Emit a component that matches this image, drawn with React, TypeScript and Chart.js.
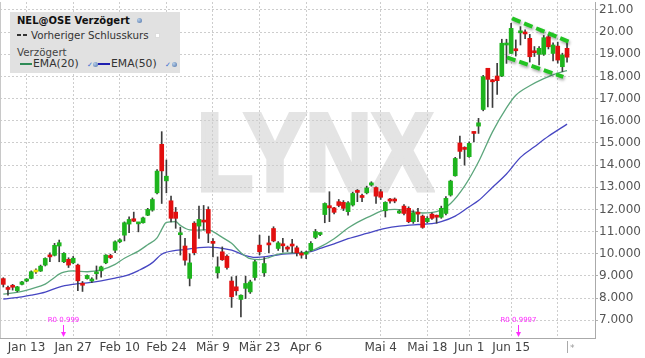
import React, { useEffect, useRef } from 'react';
import { Chart, registerables } from 'chart.js';

Chart.register(...registerables);

// ---- Candle data (trading-day index 0 = Jan 6) ----
const opens = [
  8.88, 8.46, 8.54, 8.33, 8.62, 8.77, 8.89, 9.18, 9.22, 9.49,
  9.93, 9.93, 10.35, 9.64, 9.75, 9.59, 9.49, 8.66, 8.88, 8.77,
  9.10, 9.23, 9.59, 9.90, 10.16, 10.54, 10.84, 11.34, 11.58, 11.35,
  11.40, 11.74, 11.97, 12.75, 14.94, 13.29, 12.39, 11.88, 10.86, 10.35,
  8.89, 11.38, 11.25, 11.49, 12.00, 10.56, 9.14, 10.09, 9.89, 8.77,
  8.51, 7.94, 8.44, 8.28, 8.93, 10.39, 9.14, 10.48, 11.14, 10.24,
  10.44, 10.27, 10.38, 10.27, 10.01, 9.98, 10.16, 10.74, 10.87, 11.77,
  12.17, 12.07, 12.35, 12.32, 11.90, 12.20, 12.84, 12.60, 12.75, 13.10,
  12.99, 12.80, 11.94, 12.44, 12.44, 11.84, 12.15, 12.05, 11.45, 11.85,
  11.70, 11.45, 11.79, 11.70, 11.65, 11.82, 12.65, 13.52, 15.00, 14.78,
  14.38, 15.48, 15.76, 16.51, 18.37, 17.84, 18.02, 18.02, 19.42, 19.04,
  19.19, 19.97, 19.99, 19.72, 19.12, 19.00, 19.00, 19.79, 19.04, 19.37,
  18.44, 19.27,
];
const highs = [
  8.92, 8.54, 8.62, 8.53, 8.76, 8.88, 9.23, 9.32, 9.49, 9.82,
  10.04, 10.47, 10.62, 10.05, 9.82, 9.88, 9.53, 8.75, 9.05, 8.92,
  9.45, 9.45, 9.96, 9.98, 10.58, 10.68, 11.44, 11.67, 11.88, 11.42,
  11.66, 12.05, 12.52, 13.80, 15.51, 14.23, 12.60, 12.09, 11.20, 10.70,
  10.00, 11.45, 12.15, 12.18, 12.12, 10.69, 9.86, 10.31, 9.95, 8.96,
  8.99, 8.15, 8.99, 8.81, 9.71, 10.84, 9.83, 10.80, 11.22, 10.55,
  10.70, 10.35, 10.65, 10.35, 10.12, 10.12, 10.55, 11.10, 10.95, 12.30,
  12.80, 12.10, 12.45, 12.40, 12.35, 12.78, 12.90, 12.69, 13.05, 13.25,
  13.02, 12.90, 12.35, 12.50, 12.52, 11.98, 12.22, 12.12, 11.95, 12.05,
  11.75, 11.68, 11.85, 11.75, 12.15, 12.58, 13.32, 14.35, 15.31, 14.83,
  15.05, 15.50, 16.11, 18.05, 18.37, 17.87, 18.59, 19.68, 19.68, 20.40,
  19.65, 20.25, 20.10, 19.90, 19.35, 19.35, 19.85, 19.87, 19.52, 19.55,
  19.05, 19.57,
];
const lows = [
  8.50, 8.13, 8.36, 8.28, 8.60, 8.74, 8.87, 9.11, 9.20, 9.45,
  9.64, 9.90, 9.64, 9.60, 9.38, 9.55, 8.33, 8.30, 8.85, 8.70,
  8.85, 8.95, 9.55, 9.78, 10.05, 10.50, 10.58, 10.95, 11.45, 10.99,
  11.38, 11.72, 11.92, 12.70, 12.27, 12.75, 11.44, 11.15, 9.94, 9.49,
  8.55, 9.95, 10.69, 11.07, 10.50, 9.86, 8.90, 9.70, 9.30, 7.58,
  8.13, 7.15, 7.98, 8.21, 8.81, 9.95, 8.98, 10.05, 10.54, 10.15,
  10.07, 10.10, 10.05, 9.90, 9.80, 9.78, 10.12, 10.68, 10.82, 11.40,
  11.45, 11.80, 12.12, 11.95, 11.74, 12.15, 12.35, 12.35, 12.70, 13.05,
  12.27, 12.45, 11.66, 12.28, 12.30, 11.82, 11.75, 11.40, 11.37, 11.45,
  11.15, 11.40, 11.55, 11.38, 11.60, 11.75, 12.60, 13.50, 14.30, 14.00,
  14.35, 15.05, 15.43, 16.45, 16.63, 16.60, 17.19, 17.99, 18.59, 19.04,
  18.92, 19.42, 19.70, 18.65, 18.90, 18.52, 18.95, 19.24, 18.70, 18.60,
  18.22, 18.65,
];
const closes = [
  8.62, 8.39, 8.49, 8.51, 8.73, 8.84, 9.19, 9.18, 9.44, 9.79,
  9.86, 10.38, 10.50, 10.02, 9.49, 9.80, 8.78, 8.58, 9.02, 8.83,
  9.15, 9.41, 9.94, 9.83, 10.54, 10.62, 11.40, 11.55, 11.47, 11.38,
  11.62, 12.00, 12.45, 13.73, 13.74, 13.50, 11.60, 11.60, 10.92, 9.71,
  9.59, 10.05, 11.55, 11.43, 10.93, 10.47, 9.41, 9.73, 9.38, 8.06,
  8.33, 8.13, 8.66, 8.73, 9.64, 10.09, 9.56, 10.40, 10.58, 10.49,
  10.36, 10.21, 10.35, 10.04, 9.94, 10.04, 10.47, 11.00, 10.91, 12.27,
  12.07, 11.87, 12.18, 12.05, 12.30, 12.72, 12.77, 12.54, 12.97, 13.20,
  12.60, 12.55, 12.32, 12.38, 12.38, 11.88, 11.82, 11.45, 11.85, 11.79,
  11.19, 11.60, 11.60, 11.65, 12.05, 12.50, 13.28, 14.30, 14.62, 14.71,
  14.98, 15.43, 15.91, 17.99, 17.87, 17.76, 17.81, 19.50, 19.50, 20.17,
  19.16, 20.02, 19.92, 18.89, 19.07, 19.27, 19.75, 19.34, 19.42, 18.74,
  18.97, 18.87,
];

// ---- EMA lines (at sample days) ----
const ema20Idx = [0, 4, 6, 9, 11, 12, 13, 15, 18, 21, 24, 26, 29, 31, 33, 34, 35, 37, 38, 40, 42, 44, 45, 47, 49, 51, 53, 55, 57, 59, 62, 64, 66, 68, 71, 74, 76, 79, 82, 84, 87, 90, 93, 96, 99, 102, 105, 108, 110, 113, 116, 119, 121];
const ema20Val = [8.18, 8.30, 8.42, 8.63, 8.93, 9.08, 9.17, 9.23, 9.19, 9.27, 9.52, 9.80, 10.12, 10.41, 10.72, 11.10, 11.42, 11.45, 11.28, 11.08, 11.07, 11.08, 11.00, 10.74, 10.47, 10.05, 9.78, 9.74, 9.83, 9.98, 10.04, 10.04, 10.13, 10.31, 10.68, 11.16, 11.42, 11.72, 11.98, 12.00, 11.93, 11.84, 11.90, 12.27, 13.05, 14.15, 15.50, 16.58, 17.15, 17.58, 17.90, 18.15, 18.26];
const ema50Idx = [0, 4, 6, 9, 12, 15, 18, 21, 24, 27, 29, 32, 34, 37, 39, 42, 44, 46, 49, 52, 54, 57, 60, 64, 66, 68, 71, 74, 78, 82, 85, 89, 92, 94, 97, 100, 102, 105, 108, 111, 114, 117, 121];
const ema50Val = [7.96, 8.06, 8.13, 8.27, 8.50, 8.62, 8.69, 8.78, 8.90, 9.06, 9.24, 9.60, 9.98, 10.15, 10.19, 10.28, 10.30, 10.28, 10.16, 9.92, 9.84, 9.89, 9.98, 10.03, 10.10, 10.24, 10.45, 10.68, 10.92, 11.15, 11.25, 11.32, 11.36, 11.45, 11.70, 12.12, 12.40, 13.00, 13.60, 14.35, 14.83, 15.30, 15.85];

// ---- Trend channel (drawn annotation) ----
const trendUpperIdx = [109.2, 121.5];
const trendUpperVal = [20.62, 19.56];
const trendLowerIdx = [108.1, 120.2];
const trendLowerVal = [18.86, 17.98];

// ---- Axes ----
const xTickIdx = [5, 15, 25, 35, 45, 55, 65, 81, 91, 100, 109, 119];
const xTickLabels = ['Jan 13', 'Jan 27', 'Feb 10', 'Feb 24', 'Mär 9', 'Mär 23', 'Apr 6', 'Mai 4', 'Mai 18', 'Jun 1', 'Jun 15', ''];
const yTickValues = [7, 8, 9, 10, 11, 12, 13, 14, 15, 16, 17, 18, 19, 20, 21];

// ---- Event markers ----
const markerIdx = [12.8, 110.4];
const markerLabels = ['R0 0.999', 'R0 0.9997'];

const UP = '#1db41d';
const DOWN = '#e20f0f';
const FLAT = '#e8e000';
const FONT = '"DejaVu Sans", Verdana, sans-serif';

const pts = (xs: number[], ys: number[]) => xs.map((x, i) => ({ x, y: ys[i] }));

const overlayPlugin = {
  id: 'overlayMarks',
  beforeDatasetDraw(chart: any, args: any) {
    const ds = chart.data.datasets[args.index];
    if (ds && ds._shadow) {
      const ctx = chart.ctx;
      ctx.save();
      ctx.shadowColor = 'rgba(0,0,0,0.35)';
      ctx.shadowBlur = 3;
      ctx.shadowOffsetX = 1;
      ctx.shadowOffsetY = 2;
    }
  },
  afterDatasetDraw(chart: any, args: any) {
    const ds = chart.data.datasets[args.index];
    if (ds && ds._shadow) chart.ctx.restore();
  },
  afterDraw(chart: any) {
    const { ctx, chartArea, scales } = chart;
    ctx.save();
    ctx.strokeStyle = '#c8c8c8';
    ctx.lineWidth = 1;
    ctx.beginPath();
    ctx.moveTo(chartArea.left + 0.5, chartArea.top);
    ctx.lineTo(chartArea.left + 0.5, chartArea.bottom);
    ctx.stroke();
    ctx.fillStyle = '#ff2cff';
    ctx.strokeStyle = '#ff2cff';
    ctx.font = '7px ' + FONT;
    ctx.textAlign = 'center';
    ctx.textBaseline = 'middle';
    markerIdx.forEach((v, i) => {
      const x = Math.round(scales.x.getPixelForValue(v)) + 0.5;
      const yb = chartArea.bottom;
      ctx.fillText(markerLabels[i], x, yb - 18);
      ctx.beginPath();
      ctx.moveTo(x, yb - 13);
      ctx.lineTo(x, yb - 5);
      ctx.stroke();
      ctx.beginPath();
      ctx.moveTo(x - 2.5, yb - 6);
      ctx.lineTo(x + 2.5, yb - 6);
      ctx.lineTo(x, yb - 1);
      ctx.closePath();
      ctx.fill();
    });
    ctx.restore();
  },
};

function Globe({ left, top }: { left: number; top: number }) {
  return (
    <span
      style={{
        position: 'absolute', left, top, width: 5, height: 5, borderRadius: '50%',
        background: 'radial-gradient(circle at 35% 35%, #b8cfe8, #4a70a8)',
      }}
    />
  );
}

export default function App() {
  const canvasRef = useRef<HTMLCanvasElement | null>(null);

  useEffect(() => {
    document.body.style.margin = '0';
    const canvas = canvasRef.current;
    if (!canvas) return;

    const bodyData = opens.map((o, i) => ({ x: i, y: [Math.min(o, closes[i]), Math.max(o, closes[i])] }));
    const bodyColors = opens.map((o, i) => (closes[i] > o ? UP : closes[i] < o ? DOWN : FLAT));
    const wickData = opens.map((_, i) => ({ x: i, y: [lows[i], highs[i]] }));

    const chart = new Chart(canvas, {
      type: 'bar',
      data: {
        datasets: [
          {
            type: 'line', label: 'EMA(50)', data: pts(ema50Idx, ema50Val),
            borderColor: '#4646c2', borderWidth: 1.3, pointRadius: 0, fill: false,
            cubicInterpolationMode: 'monotone', order: 5,
          } as any,
          {
            type: 'line', label: 'EMA(20)', data: pts(ema20Idx, ema20Val),
            borderColor: '#5ca67c', borderWidth: 1.3, pointRadius: 0, fill: false,
            cubicInterpolationMode: 'monotone', order: 4,
          } as any,
          {
            type: 'bar', label: 'wick', data: wickData, backgroundColor: '#3c3c3c',
            barThickness: 1, grouped: false, order: 3,
          } as any,
          {
            type: 'bar', label: 'body', data: bodyData, backgroundColor: bodyColors,
            barThickness: 4, grouped: false, minBarLength: 2, order: 2,
          } as any,
          {
            type: 'line', label: 'trendUpper', data: pts(trendUpperIdx, trendUpperVal),
            borderColor: '#22c422', borderWidth: 4, borderDash: [9, 4], pointRadius: 0,
            fill: false, order: 1, _shadow: true, borderCapStyle: 'butt',
          } as any,
          {
            type: 'line', label: 'trendLower', data: pts(trendLowerIdx, trendLowerVal),
            borderColor: '#22c422', borderWidth: 4, borderDash: [9, 4], pointRadius: 0,
            fill: false, order: 1, _shadow: true, borderCapStyle: 'butt',
          } as any,
        ],
      },
      options: {
        responsive: false,
        animation: false,
        devicePixelRatio: 1,
        layout: { padding: { left: 0, top: 2, right: 0, bottom: 0 }, autoPadding: false } as any,
        plugins: { legend: { display: false }, tooltip: { enabled: false } },
        events: [],
        scales: {
          x: {
            type: 'linear',
            min: -0.71,
            max: 127,
            offset: false,
            afterBuildTicks: (s: any) => { s.ticks = xTickIdx.map((v) => ({ value: v })); },
            afterFit: (s: any) => {
              s.height = 20;
              s.paddingLeft = 0; s.paddingRight = 0; s.paddingTop = 0; s.paddingBottom = 0;
            },
            ticks: {
              autoSkip: false, maxRotation: 0, padding: 3,
              font: { family: FONT, size: 12 }, color: '#444',
              callback: (_v: any, i: number) => xTickLabels[i],
            },
            grid: { color: '#cdcdcd', drawTicks: false, offset: false, lineWidth: 1 },
            border: { display: true, color: '#aaaaaa', dash: [2, 2] },
          },
          y: {
            type: 'linear',
            position: 'right',
            min: 6.2,
            max: 21.36,
            afterBuildTicks: (s: any) => { s.ticks = yTickValues.map((v) => ({ value: v })); },
            afterFit: (s: any) => {
              s.width = 50;
              s.paddingLeft = 0; s.paddingRight = 0; s.paddingTop = 0; s.paddingBottom = 0;
            },
            ticks: {
              padding: 1,
              font: { family: FONT, size: 12 }, color: '#555',
              callback: (v: any) => (Number(v) >= 20 ? Number(v).toFixed(2) : Number(v).toFixed(3)),
            },
            grid: { color: '#cdcdcd', drawTicks: true, tickLength: 3, tickColor: '#b0b0b0', lineWidth: 1 },
            border: { display: true, color: '#aaaaaa', dash: [2, 2] },
          },
        },
      } as any,
      plugins: [overlayPlugin],
    });
    return () => chart.destroy();
  }, []);

  const txt: React.CSSProperties = { position: 'absolute', whiteSpace: 'nowrap', lineHeight: '12px' };

  return (
    <div style={{ position: 'fixed', left: 0, top: 0, width: 645, height: 358, background: '#fff', overflow: 'hidden', fontFamily: FONT }}>
      <div
        style={{
          position: 'absolute', left: 197, top: 98, fontFamily: '"Liberation Sans", Arial, sans-serif',
          fontWeight: 'bold', fontSize: 109, lineHeight: '109px', color: '#e4e4e4',
          WebkitTextStroke: '5px #e4e4e4',
          transform: 'scaleX(0.84)', transformOrigin: 'left top', whiteSpace: 'nowrap',
        } as any}
      >
        LYNX
      </div>
      <canvas ref={canvasRef} width={645} height={358} style={{ position: 'absolute', left: 0, top: 0, width: 645, height: 358 }} />
      <div style={{ position: 'absolute', left: 10, top: 12, width: 170, height: 61, background: '#e1e1e1', fontSize: 10.3, color: '#333' }}>
        <span style={{ ...txt, left: 7, top: 3, fontWeight: 'bold', fontSize: 10, color: '#111' }}>NEL@OSE Verzögert</span>
        <Globe left={127} top={6} />
        <span style={{ position: 'absolute', left: 7, top: 22, width: 4, height: 1.5, background: '#333' }} />
        <span style={{ position: 'absolute', left: 13, top: 22, width: 4, height: 1.5, background: '#333' }} />
        <span style={{ ...txt, left: 21, top: 17 }}>Vorheriger Schlusskurs</span>
        <span style={{ position: 'absolute', left: 145, top: 21, width: 5, height: 5, background: '#fff', border: '1px solid #ddd', boxSizing: 'border-box' }} />
        <span style={{ ...txt, left: 7, top: 34, color: '#444' }}>Verzögert</span>
        <span style={{ position: 'absolute', left: 10, top: 51, width: 12, height: 2, background: '#2e8b57' }} />
        <span style={{ ...txt, left: 23, top: 46, fontSize: 10.8 }}>EMA(20)</span>
        <span style={{ ...txt, left: 77, top: 47, fontSize: 7, color: '#3a6fd0' }}>✓</span>
        <Globe left={83} top={50} />
        <span style={{ position: 'absolute', left: 88, top: 51, width: 12, height: 2, background: '#2020b0' }} />
        <span style={{ ...txt, left: 101, top: 46, fontSize: 10.8 }}>EMA(50)</span>
        <span style={{ ...txt, left: 155, top: 47, fontSize: 7, color: '#3a6fd0' }}>✓</span>
        <Globe left={162} top={50} />
      </div>
      <span style={{ position: 'absolute', left: 567, top: 341, width: 1, height: 12, background: '#aaa' }} />
      <span style={{ ...txt, left: 570, top: 342, fontSize: 9, color: '#999' }}>*</span>
    </div>
  );
}
